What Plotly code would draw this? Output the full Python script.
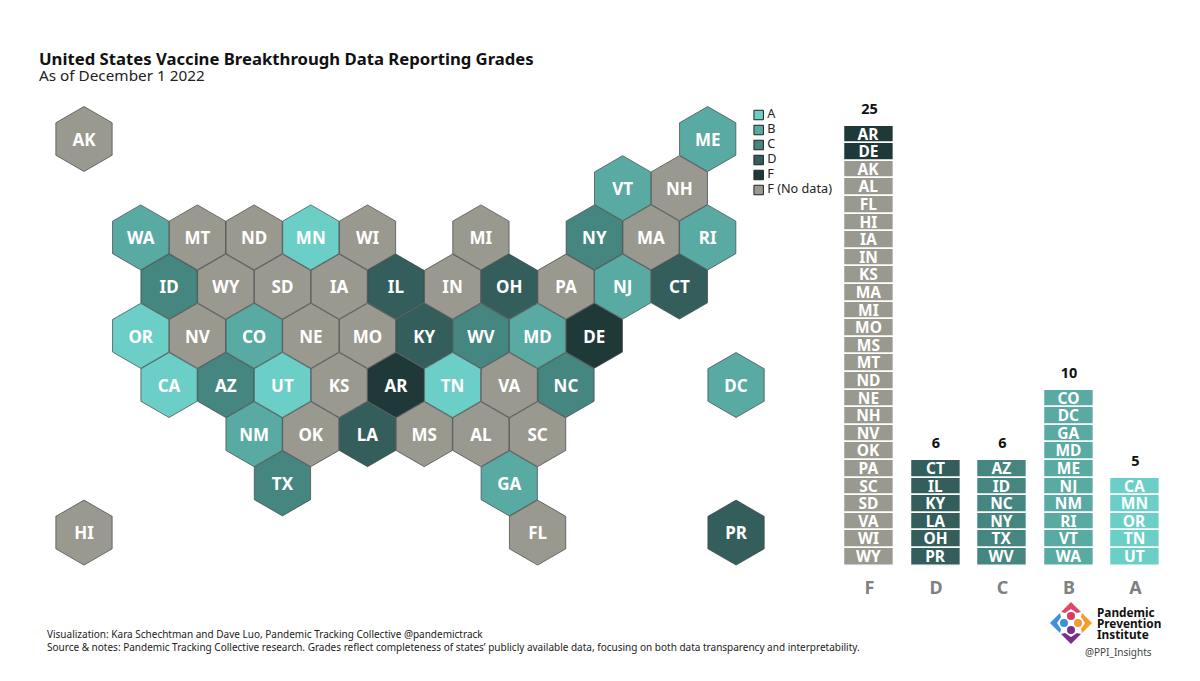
import plotly.graph_objects as go

FONT = "Noto Sans"
GRADES = ["F", "D", "C", "B", "A"]
F_GRADED = ["AR", "DE"]
F_NODATA = ["AK", "AL", "FL", "HI", "IA", "IN", "KS", "MA", "MI", "MO", "MS", "MT", "ND", "NE", "NH", "NV", "OK", "PA", "SC", "SD", "VA", "WI", "WY"]
D_STATES = ["CT", "IL", "KY", "LA", "OH", "PR"]
C_STATES = ["AZ", "ID", "NC", "NY", "TX", "WV"]
B_STATES = ["CO", "DC", "GA", "MD", "ME", "NJ", "NM", "RI", "VT", "WA"]
A_STATES = ["CA", "MN", "OR", "TN", "UT"]

LEGEND_LABELS = ["A", "B", "C", "D", "F", "F (No data)"]
LEGEND_COLORS = ["#6BCFC7", "#5AAAA4", "#458680", "#335E5C", "#1F3838", "#9A998F"]
COLOR = dict(zip(LEGEND_LABELS, LEGEND_COLORS))

# tile-grid: state -> (half-column, row)
GRID = {
    "AK": (0, 0), "ME": (22, 0),
    "VT": (19, 1), "NH": (21, 1),
    "WA": (2, 2), "MT": (4, 2), "ND": (6, 2), "MN": (8, 2), "WI": (10, 2), "MI": (14, 2), "NY": (18, 2), "MA": (20, 2), "RI": (22, 2),
    "ID": (3, 3), "WY": (5, 3), "SD": (7, 3), "IA": (9, 3), "IL": (11, 3), "IN": (13, 3), "OH": (15, 3), "PA": (17, 3), "NJ": (19, 3), "CT": (21, 3),
    "OR": (2, 4), "NV": (4, 4), "CO": (6, 4), "NE": (8, 4), "MO": (10, 4), "KY": (12, 4), "WV": (14, 4), "MD": (16, 4), "DE": (18, 4),
    "CA": (3, 5), "AZ": (5, 5), "UT": (7, 5), "KS": (9, 5), "AR": (11, 5), "TN": (13, 5), "VA": (15, 5), "NC": (17, 5), "DC": (23, 5),
    "NM": (6, 6), "OK": (8, 6), "LA": (10, 6), "MS": (12, 6), "AL": (14, 6), "SC": (16, 6),
    "TX": (7, 7), "GA": (15, 7),
    "HI": (0, 8), "FL": (16, 8), "PR": (23, 8),
}

GROUPS = [("F", F_GRADED), ("F (No data)", F_NODATA), ("D", D_STATES), ("C", C_STATES), ("B", B_STATES), ("A", A_STATES)]
W, H = 1200, 681
fig = go.Figure()

# hexagon map
for label, states in GROUPS:
    fig.add_trace(go.Scatter(
        x=[GRID[s][0] for s in states], y=[GRID[s][1] for s in states],
        text=states, mode="markers", xaxis="x", yaxis="y", showlegend=False, hoverinfo="text",
        marker=dict(symbol="hexagon", size=65, color=COLOR[label], line=dict(color="#3c4444", width=0.7)),
    ))
    fig.add_trace(go.Scatter(
        x=[GRID[s][0] for s in states], y=[GRID[s][1] + 0.05 for s in states],
        text=states, mode="text", xaxis="x", yaxis="y", showlegend=False, hoverinfo="skip",
        textposition="middle center", textfont=dict(family=FONT, size=17, color="white", weight="bold"),
    ))

# stacked unit bars
COLUMNS = {"F": [("F", F_GRADED), ("F (No data)", F_NODATA)], "D": [("D", D_STATES)], "C": [("C", C_STATES)], "B": [("B", B_STATES)], "A": [("A", A_STATES)]}
totals = []
for grade in GRADES:
    n = sum(len(s) for _, s in COLUMNS[grade])
    totals.append(n)
    i = 0
    for label, states in COLUMNS[grade]:
        fig.add_trace(go.Bar(
            x=[grade] * len(states), y=[1] * len(states),
            base=[n - 1 - (i + k) for k in range(len(states))],
            text=states, width=0.745, xaxis="x2", yaxis="y2", showlegend=False, hoverinfo="text",
            marker=dict(color=COLOR[label], line=dict(color="white", width=1.6)),
            textposition="inside", insidetextanchor="middle", textangle=0, constraintext="none",
            textfont=dict(family=FONT, size=15.5, color="white", weight="bold"),
        ))
        i += len(states)

fig.add_trace(go.Scatter(
    x=GRADES, y=[t + 0.45 for t in totals], text=[str(t) for t in totals], mode="text", xaxis="x2", yaxis="y2",
    showlegend=False, hoverinfo="skip", textposition="top center",
    textfont=dict(family=FONT, size=14.5, color="#111111", weight="bold"),
))

# key
fig.add_trace(go.Scatter(
    x=[0] * 6, y=LEGEND_LABELS, mode="markers", xaxis="x3", yaxis="y3",
    showlegend=False, hoverinfo="skip",
    marker=dict(symbol="square", size=9.5, color=LEGEND_COLORS, line=dict(color="#222222", width=1)),
))
fig.add_trace(go.Scatter(
    x=[0.77] * 6, y=LEGEND_LABELS, text=LEGEND_LABELS, mode="text", xaxis="x3", yaxis="y3",
    showlegend=False, hoverinfo="skip", textposition="middle right",
    textfont=dict(family=FONT, size=12.7, color="#222222"),
))

axis_off = dict(visible=False, fixedrange=True)
px_col, x0 = 28.35, 84
px_row, y0 = 49.2, 139
hex_right = 816
layout = dict(
    width=W, height=H, margin=dict(l=0, r=0, t=0, b=0), paper_bgcolor="white", plot_bgcolor="rgba(0,0,0,0)",
    barmode="overlay", bargap=0, showlegend=False,
    xaxis=dict(domain=[0, hex_right / W], range=[(0 - x0) / px_col, (hex_right - x0) / px_col], **axis_off),
    yaxis=dict(domain=[0, 1], range=[(H - y0) / px_row, (0 - y0) / px_row], **axis_off),
    xaxis2=dict(domain=[836.25 / W, 1168.75 / W], type="category", categoryorder="array", categoryarray=GRADES,
                anchor="y2", showgrid=False, zeroline=False, showline=False, ticks="outside", ticklen=6, tickcolor="rgba(0,0,0,0)",
                tickfont=dict(family=FONT, size=18, color="#808080", weight="bold"), fixedrange=True),
    yaxis2=dict(domain=[(H - 565.5) / H, 1], range=[0, 565.5 / 17.6], anchor="x2", **axis_off),
    xaxis3=dict(domain=[752 / W, 850 / W], range=[-0.6, 8.2], anchor="y3", **axis_off),
    yaxis3=dict(domain=[(H - 197.5) / H, (H - 107.5) / H], type="category", categoryorder="array",
                categoryarray=LEGEND_LABELS[::-1], range=[-0.5, 5.5], anchor="x3", **axis_off),
)

def txt(x, y, s, size, color="#222222", bold=False):
    return dict(xref="paper", yref="paper", x=(x - 2) / W, y=1 - y / H, xanchor="left", yanchor="middle", showarrow=False,
                text=f"<b>{s}</b>" if bold else s, font=dict(family=FONT, size=size, color=color))

layout["annotations"] = [
    txt(39, 58, "United States Vaccine Breakthrough Data Reporting Grades", 16.7, "#111111", True),
    txt(39, 75.5, "As of December 1 2022", 15.3, "#222222"),
    txt(47, 634, "Visualization: Kara Schechtman and Dave Luo, Pandemic Tracking Collective @pandemictrack", 10),
    txt(47, 647, "Source &amp; notes: Pandemic Tracking Collective research. Grades reflect completeness of states’ publicly available data, focusing on both data transparency and interpretability.", 10),
    txt(1097, 612, "Pandemic", 11.8, "#111111", True),
    txt(1097, 623, "Prevention", 11.8, "#111111", True),
    txt(1097, 634, "Institute", 11.8, "#111111", True),
    txt(1085, 652, "@PPI_Insights", 10, "#444444"),
]

def path(points, color):
    d = "M" + " L".join(f"{x / W:.5f},{1 - y / H:.5f}" for x, y in points) + " Z"
    return dict(type="path", xref="paper", yref="paper", path=d, fillcolor=color, line=dict(width=0))

def circle(cx, cy, r, color):
    return dict(type="circle", xref="paper", yref="paper", x0=(cx - r) / W, x1=(cx + r) / W,
                y0=1 - (cy + r) / H, y1=1 - (cy - r) / H, fillcolor=color, line=dict(width=0))

cx, cy = 1071, 623
layout["shapes"] = [
    path([(cx, cy - 21), (cx + 10, cy - 11), (cx + 6, cy - 10), (cx, cy - 14), (cx - 6, cy - 10), (cx - 10, cy - 11)], "#E0476A"),
    path([(cx, cy + 21), (cx + 10, cy + 11), (cx + 6, cy + 10), (cx, cy + 14), (cx - 6, cy + 10), (cx - 10, cy + 11)], "#7B2D8B"),
    path([(cx - 21, cy), (cx - 11, cy - 10), (cx - 10, cy - 6), (cx - 14, cy), (cx - 10, cy + 6), (cx - 11, cy + 10)], "#3E8FDD"),
    path([(cx + 21, cy), (cx + 11, cy - 10), (cx + 10, cy - 6), (cx + 14, cy), (cx + 10, cy + 6), (cx + 11, cy + 10)], "#F59A2F"),
    circle(cx, cy - 7, 4, "#D93A5E"), circle(cx, cy + 7, 4, "#7B2D8B"),
    circle(cx - 7, cy, 4, "#3E8FDD"), circle(cx + 7, cy, 4, "#F59A2F"),
]

fig.update_layout(**layout)
fig.write_html("out.html", config={"displayModeBar": False}, post_script="document.body.style.margin='0';")
